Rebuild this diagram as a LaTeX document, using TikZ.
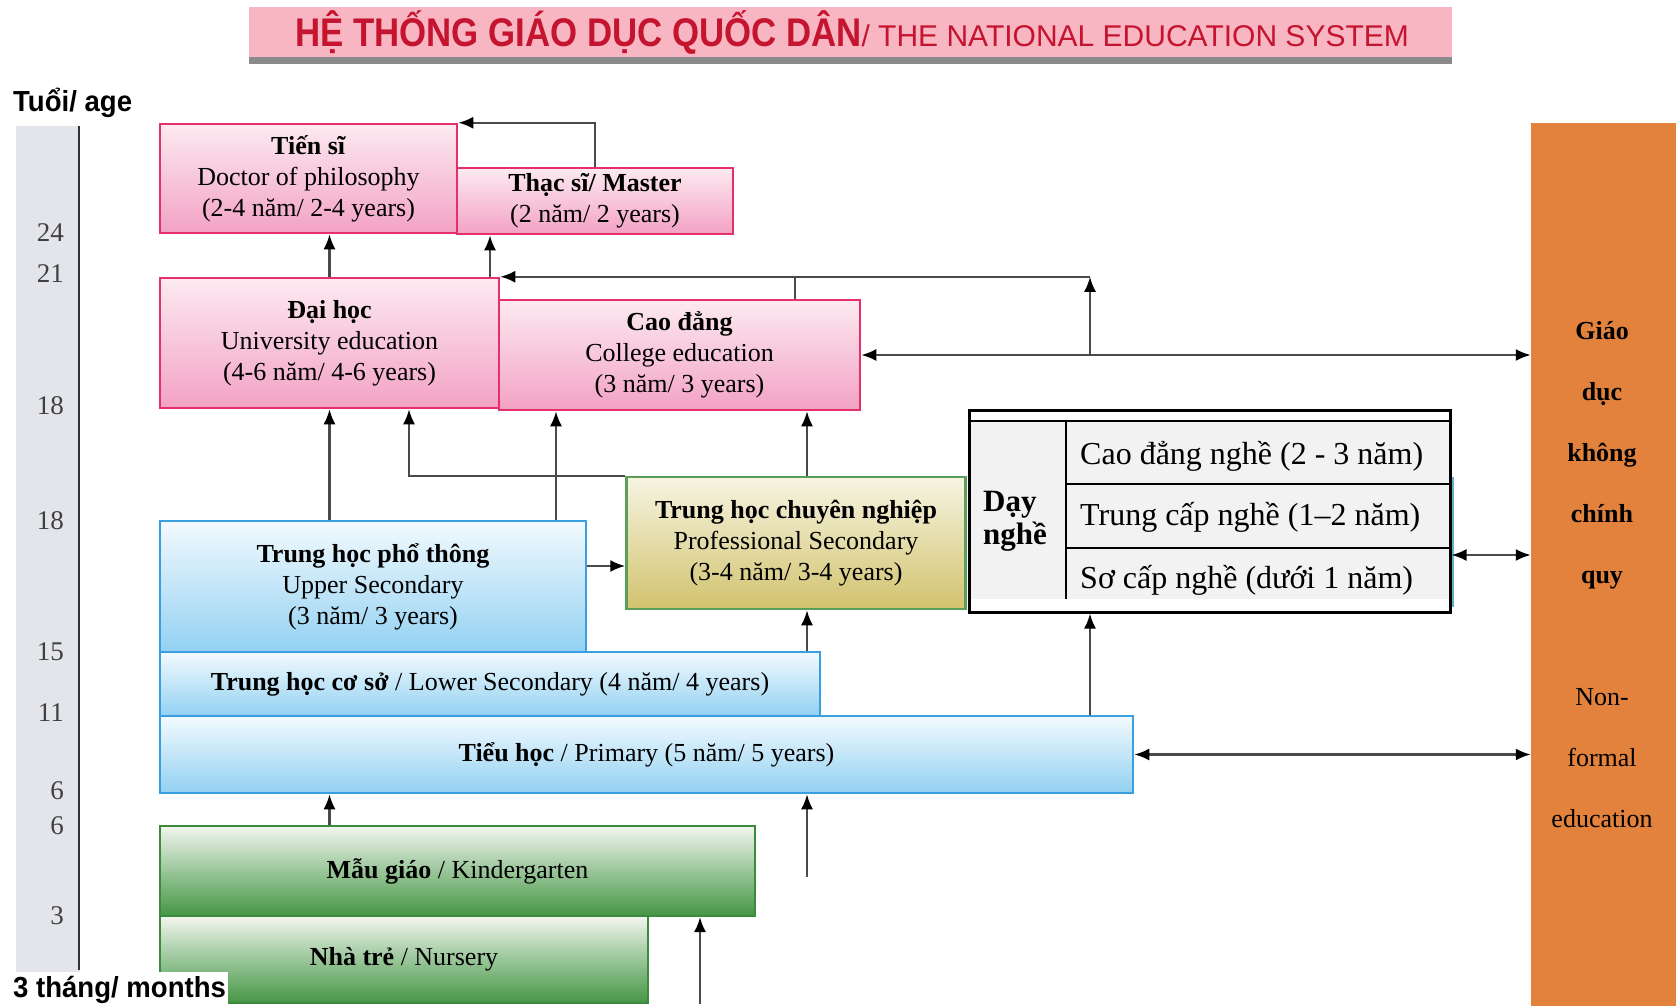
\documentclass[tikz,border=0pt]{standalone}
\usepackage{fontspec}
\setmainfont{Liberation Serif}
\newfontfamily\sansf{Liberation Sans}
\newfontfamily\sansn[FakeStretch=0.87]{Liberation Sans}
\newfontfamily\sansm[FakeStretch=0.95]{Liberation Sans}
\usetikzlibrary{arrows.meta,calc}
\definecolor{pinkline}{HTML}{E5306A}
\definecolor{pinktop}{HTML}{FCEAF1}
\definecolor{pinkbot}{HTML}{F3A2C4}
\definecolor{blueline}{HTML}{3A9FE0}
\definecolor{bluetop}{HTML}{F3FAFE}
\definecolor{bluebot}{HTML}{92D1F2}
\definecolor{profline}{HTML}{5A9E5A}
\definecolor{proftop}{HTML}{F6F4E2}
\definecolor{profbot}{HTML}{D2C36E}
\definecolor{greenline}{HTML}{3C8A3C}
\definecolor{greentop}{HTML}{F3F6EF}
\definecolor{greenbot}{HTML}{459645}
\definecolor{orangebar}{HTML}{E2823C}
\definecolor{agegray}{HTML}{E3E5EA}
\definecolor{titlepink}{HTML}{F8B6C2}
\definecolor{titleshadow}{HTML}{8A8A8A}
\definecolor{titlered}{HTML}{C4142F}
\definecolor{arrowgray}{HTML}{4A4A4A}
\definecolor{tablegray}{HTML}{F2F2F2}
\definecolor{tealedge}{HTML}{5FB0C8}
\tikzset{
  box/.style={rectangle, line width=2.5pt, inner sep=0pt, align=center, font=\fontsize{26}{31}\selectfont},
  pinkbox/.style={box, draw=pinkline, top color=pinktop, bottom color=pinkbot},
  bluebox/.style={box, draw=blueline, top color=bluetop, bottom color=bluebot},
  profbox/.style={box, draw=profline, top color=proftop, bottom color=profbot},
  greenbox/.style={box, draw=greenline, line width=2pt, top color=greentop, bottom color=greenbot, middle color=greenbot!55!white},
  arr/.style={draw=arrowgray, line width=2.3pt, -{Latex[length=15pt,width=12pt,color=black]}},
  darr/.style={draw=arrowgray, line width=2.3pt, {Latex[length=15pt,width=12pt,color=black]}-{Latex[length=15pt,width=12pt,color=black]}},
  ln/.style={draw=arrowgray, line width=1.8pt},
  agenum/.style={anchor=east, inner sep=0pt, text=black!75, font=\fontsize{27}{30}\selectfont},
  tabtext/.style={anchor=west, inner sep=0pt, font=\fontsize{32}{36}\selectfont},
}
\begin{document}
\begin{tikzpicture}[x=1pt,y=-1pt]
\useasboundingbox (0,0) rectangle (1676,1006);
\fill[white] (0,0) rectangle (1676,1006);

% title banner
\fill[titleshadow] (249,55) rectangle (1452,64);
\node[fill=titlepink, minimum width=1203pt, minimum height=50pt, inner sep=0pt, anchor=north west] (titlebar) at (249,7) {};
\node[inner sep=0pt, text=titlered] (title) at (852,33) {\sansn\bfseries\fontsize{40}{44}\selectfont HỆ THỐNG GIÁO DỤC QUỐC DÂN\sansf\mdseries\fontsize{30}{40}\selectfont/ THE NATIONAL EDUCATION SYSTEM};

% age bar
\node[anchor=west, inner sep=0pt, font=\sansm\bfseries\fontsize{29}{32}\selectfont] (agehdr) at (13,103) {Tuổi/ age};
\fill[agegray] (16,126) rectangle (80,972);
\draw[line width=2.5pt, black!80] (79,126) -- (79,970);
\node[agenum] (a24) at (64,233) {24};
\node[agenum] (a21) at (64,274) {21};
\node[agenum] (a18a) at (64,406) {18};
\node[agenum] (a18b) at (64,521) {18};
\node[agenum] (a15) at (64,652) {15};
\node[agenum] (a11) at (64,713) {11};
\node[agenum] (a6a) at (64,791) {6};
\node[agenum] (a6b) at (64,826) {6};
\node[agenum] (a3) at (64,916) {3};

% orange non-formal bar
\node[fill=orangebar, minimum width=145pt, minimum height=883pt, inner sep=0pt] (nonformal) at (1603.5,564.5) {};
\node[align=center, inner sep=0pt, font=\fontsize{26}{61}\selectfont] (nftext) at (1602,575) {\textbf{Giáo}\\\textbf{dục}\\\textbf{không}\\\textbf{chính}\\\textbf{quy}\\[61pt]Non-\\formal\\education};

% higher education
\node[pinkbox, minimum width=297pt, minimum height=109pt] (tiensi) at (308.5,178.5) {\textbf{Tiến sĩ}\\Doctor of philosophy\\(2-4 năm/ 2-4 years)};
\node[pinkbox, minimum width=276pt, minimum height=66pt] (thacsi) at (595,201) {\textbf{Thạc sĩ/ Master}\\(2 năm/ 2 years)};
\node[pinkbox, minimum width=339pt, minimum height=130pt] (daihoc) at (329.5,343) {\textbf{Đại học}\\University education\\(4-6 năm/ 4-6 years)};
\node[pinkbox, minimum width=361pt, minimum height=110pt] (caodang) at (679.5,355) {\textbf{Cao đẳng}\\College education\\(3 năm/ 3 years)};

% secondary
\node[bluebox, minimum width=426pt, minimum height=131pt] (upper) at (373,586.5) {\textbf{Trung học phổ thông}\\Upper Secondary\\(3 năm/ 3 years)};
\node[profbox, minimum width=339pt, minimum height=132pt] (prof) at (796,543) {\textbf{Trung học chuyên nghiệp}\\Professional Secondary\\(3-4 năm/ 3-4 years)};
\node[bluebox, minimum width=660pt, minimum height=64pt] (lower) at (490,684) {\textbf{Trung học cơ sở} / Lower Secondary (4 năm/ 4 years)};
\node[bluebox, minimum width=973pt, minimum height=77pt] (primary) at (646.5,754.5) {\textbf{Tiểu học} / Primary (5 năm/ 5 years)};

% pre-school
\node[greenbox, minimum width=488pt, minimum height=87pt] (nursery) at (404,959.5) {\textbf{Nhà trẻ} / Nursery};
\node[greenbox, minimum width=595pt, minimum height=90pt] (kinder) at (457.5,871) {\textbf{Mẫu giáo} / Kindergarten};
\fill[white] (8,972) rectangle (228,1006);
\node[anchor=west, inner sep=0pt, font=\sansm\bfseries\fontsize{29}{32}\selectfont] (months) at (13,990) {3 tháng/ months};

% vocational table
\fill[tealedge] (1449,477) rectangle (1454,607);
\node[draw=black, line width=3pt, fill=white, minimum width=481pt, minimum height=202pt, inner sep=0pt] (daynghe) at (1209.5,511) {};
\fill[tablegray] (970.5,421) rectangle (1448.5,599);
\draw[line width=2pt] (969,421) -- (1450,421);
\draw[line width=1.5pt] (1066,421) -- (1066,599);
\draw[line width=1.5pt] (1066,484) -- (1450,484);
\draw[line width=1.5pt] (1066,548) -- (1450,548);
\node[anchor=west, inner sep=0pt, align=left, font=\bfseries\fontsize{31}{33}\selectfont] (dnlabel) at (983,521) {Dạy\\nghề};
\node[tabtext] (cdn) at (1080,456) {Cao đẳng nghề (2 - 3 năm)};
\node[tabtext] (tcn) at (1080,517) {Trung cấp nghề (1–2 năm)};
\begin{scope}
\clip (969,421) rectangle (1450,599);
\node[tabtext] (scn) at (1080,580) {Sơ cấp nghề (dưới 1 năm)};
\end{scope}

% connectors
\coordinate (xa) at (490,0);
\coordinate (xj) at (1090,0);
\coordinate (xc) at (795,0);
\coordinate (xu) at (556,0);
\coordinate (xp) at (409,0);
\coordinate (xq) at (807,0);
\coordinate (yu) at (0,566);
\coordinate (yd) at (0,555);
\coordinate (f1) at (807,877);
\coordinate (f2) at (700,1004);

\draw[arr] (thacsi.north) |- (tiensi.north east);
\draw[arr] (daihoc.north) -- (daihoc.north |- tiensi.south);
\draw[arr] (xa |- daihoc.north) -- (xa |- thacsi.south);
\draw[ln] (xc |- caodang.north) -- (xc |- daihoc.north);
\draw[arr] (xj |- caodang.east) -- (xj |- daihoc.north);
\draw[arr] (xj |- daihoc.north) -- (daihoc.north east);
\draw[darr] (caodang.east) -- (caodang.east -| nonformal.west);
\draw[arr] (upper.north -| daihoc.south) -- (daihoc.south);
\draw[arr] (xu |- upper.north) -- (xu |- caodang.south);
\draw[arr] (upper.east |- yu) -- (prof.west |- yu);
\draw[arr] (prof.north west) -| (xp |- daihoc.south);
\draw[arr] (xq |- prof.north) -- (xq |- caodang.south);
\draw[arr] (xq |- lower.north) -- (xq |- prof.south);
\draw[arr] (xj |- primary.north) -- (xj |- daynghe.south);
\draw[darr] (primary.east) -- (primary.east -| nonformal.west);
\draw[darr] (daynghe.east |- yd) -- (nonformal.west |- yd);
\draw[arr] (kinder.north -| daihoc.south) -- (primary.south -| daihoc.south);
\draw[arr] (f1) -- (f1 |- primary.south);
\draw[arr] (f2) -- (f2 |- kinder.south);
\end{tikzpicture}
\end{document}
